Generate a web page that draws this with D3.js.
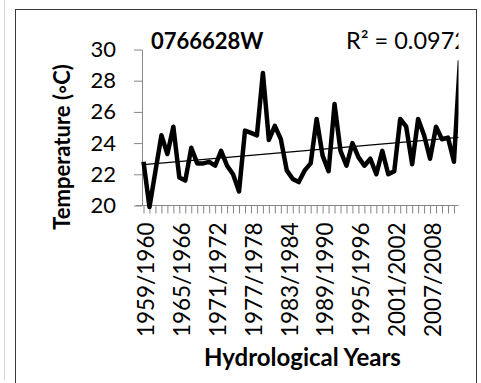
<!DOCTYPE html>
<html>
<head>
<meta charset="utf-8">
<script src="https://cdn.jsdelivr.net/npm/d3@7"></script>
<style>
  body { margin: 0; background: #fff; }
  svg { display: block; font-family: Lato, "Open Sans", sans-serif; }
</style>
</head>
<body>
<div id="chart"></div>
<script>
/* station 0766628W - hydrological year temperatures */

const years = [
  "1959/1960","1960/1961","1961/1962","1962/1963","1963/1964","1964/1965",
  "1965/1966","1966/1967","1967/1968","1968/1969","1969/1970","1970/1971",
  "1971/1972","1972/1973","1973/1974","1974/1975","1975/1976","1976/1977",
  "1977/1978","1978/1979","1979/1980","1980/1981","1981/1982","1982/1983",
  "1983/1984","1984/1985","1985/1986","1986/1987","1987/1988","1988/1989",
  "1989/1990","1990/1991","1991/1992","1992/1993","1993/1994","1994/1995",
  "1995/1996","1996/1997","1997/1998","1998/1999","1999/2000","2000/2001",
  "2001/2002","2002/2003","2003/2004","2004/2005","2005/2006","2006/2007",
  "2007/2008","2008/2009","2009/2010","2010/2011","2011/2012","2012/2013"
];

const temps = [
  22.8, 19.9, 22.2, 24.5, 23.3, 25.05, 21.8, 21.6, 23.7, 22.7,
  22.7, 22.8, 22.55, 23.5, 22.55, 22.0, 20.9, 24.8, 24.65, 24.5,
  28.5, 24.2, 25.1, 24.25, 22.25, 21.7, 21.5, 22.25, 22.7, 25.55,
  23.2, 22.2, 26.5, 23.5, 22.55, 24.0, 23.1, 22.55, 23.0, 22.0,
  23.5, 22.0, 22.2, 25.55, 25.05, 22.65, 25.55, 24.5, 23.0, 25.05,
  24.25, 24.35, 22.8, 29.3
];

const xLabels = ["1959/1960","1965/1966","1971/1972","1977/1978","1983/1984",
                 "1989/1990","1995/1996","2001/2002","2007/2008"];
const yTicks = [20, 22, 24, 26, 28, 30];

const width = 481, height = 383;
const axisColor = "#868686";

const svg = d3.select("#chart")
    .append("svg")
    .attr("width", width)
    .attr("height", height);

// faint line at far left and chart frame
svg.append("line")
    .attr("x1", 4.5).attr("x2", 4.5)
    .attr("y1", 0).attr("y2", 380)
    .attr("stroke", "#d4d4d4");

svg.append("rect")
    .attr("x", 15.5).attr("y", 9.5)
    .attr("width", 461).attr("height", 420)
    .attr("fill", "none")
    .attr("stroke", "#3c3c3c");

svg.append("clipPath")
    .attr("id", "clip")
    .append("rect")
    .attr("x", 0).attr("y", 0)
    .attr("width", 458.5).attr("height", height);

let x = d3.scalePoint()
    .domain(years)
    .range([143.5, 143.5 + 5.97 * (years.length - 1)]);

let y = d3.scaleLinear()
    .domain([20, 30])
    .range([205.5, 49.5]);

// y axis
let yAxis = svg.append("g")
    .attr("transform", "translate(142,0)")
    .call(d3.axisLeft(y).tickValues(yTicks).tickSize(8).tickPadding(18).tickSizeOuter(0));
yAxis.select(".domain").attr("stroke", axisColor);
yAxis.selectAll(".tick line").attr("stroke", axisColor);
yAxis.selectAll("text")
    .attr("font-family", "Lato, sans-serif")
    .attr("font-size", 22)
    .attr("fill", "#000");

const plot = svg.append("g").attr("clip-path", "url(#clip)");

// x axis, one tick per year, label every 6th
let xAxis = plot.append("g")
    .attr("transform", "translate(0,205.5)")
    .call(d3.axisBottom(x).tickSize(8).tickSizeOuter(0)
        .tickFormat(d => xLabels.includes(d) ? d : ""));
xAxis.select(".domain")
    .attr("d", `M136,0H${width}`)
    .attr("stroke", axisColor);
xAxis.selectAll(".tick line").attr("stroke", axisColor);
xAxis.selectAll("text")
    .attr("font-family", "Lato, sans-serif")
    .attr("font-size", 22.5)
    .attr("fill", "#000")
    .attr("transform", "rotate(-90)")
    .attr("text-anchor", "end")
    .attr("x", -17)
    .attr("y", 2.5)
    .attr("dy", "0.35em");

// temperature line
let line = d3.line()
    .x((d, i) => x(years[i]))
    .y(d => y(d));

plot.append("path")
    .datum(temps)
    .attr("d", line)
    .attr("fill", "none")
    .attr("stroke", "#000")
    .attr("stroke-width", 4.5)
    .attr("stroke-linejoin", "round");

// linear trend line (least squares)
let idx = temps.map((d, i) => i);
let mx = d3.mean(idx), my = d3.mean(temps);
let slope = d3.sum(idx, i => (i - mx) * (temps[i] - my)) / d3.sum(idx, i => (i - mx) ** 2);
let icpt = my - slope * mx;
let n = temps.length - 1;

plot.append("line")
    .attr("x1", x(years[0])).attr("y1", y(icpt))
    .attr("x2", x(years[n])).attr("y2", y(icpt + slope * n))
    .attr("stroke", "#000")
    .attr("stroke-width", 1.3);

plot.append("text")
    .attr("x", 346)
    .attr("y", 49)
    .attr("font-size", 23.5)
    .text("R² = 0.0972");

// station title
svg.append("text")
    .attr("x", 151)
    .attr("y", 49)
    .attr("font-size", 22)
    .attr("font-weight", "bold")
    .text("0766628W");

svg.append("text")
    .attr("transform", "translate(70,147) rotate(-90)")
    .attr("text-anchor", "middle")
    .attr("font-size", 22)
    .attr("font-weight", "bold")
    .text("Temperature (◦C)");

svg.append("text")
    .attr("x", 302.5)
    .attr("y", 366)
    .attr("text-anchor", "middle")
    .attr("font-size", 24)
    .attr("font-weight", "bold")
    .text("Hydrological Years");
</script>
</body>
</html>
